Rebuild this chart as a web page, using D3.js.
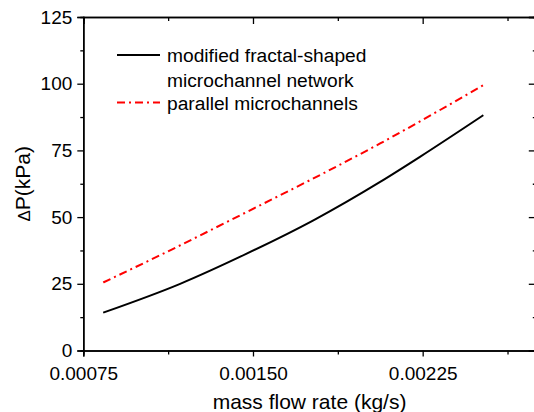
<!DOCTYPE html>
<html>
<head>
<meta charset="utf-8">
<script src="https://cdn.jsdelivr.net/npm/d3@7"></script>
<style>
  html, body { margin: 0; padding: 0; background: #fff; }
  svg { display: block; }
  text { font-family: "Liberation Sans", Arial, Helvetica, sans-serif; fill: #000; }
</style>
</head>
<body>
<svg id="chart" width="534" height="412"></svg>
<script>
// ---- data ----
const fractalMass = [0.000838, 0.001178, 0.001472, 0.001767, 0.002062, 0.002238, 0.002518];
const fractalDP   = [14.2, 25.0, 36.3, 48.8, 63.2, 72.6, 88.2];
const parallelMass = [0.000838, 0.001089, 0.001472, 0.001767, 0.002062, 0.002518];
const parallelDP   = [25.5, 35.7, 51.9, 64.5, 77.6, 99.5];
const xTicks = [0.00075, 0.0015, 0.00225];
const xMinorTicks = [0.001125, 0.001875, 0.002625];
const yTicks = [0, 25, 50, 75, 100, 125];
const yMinorTicks = [12.5, 37.5, 62.5, 87.5, 112.5];
const legendLabels = [["modified fractal-shaped", "microchannel network"], ["parallel microchannels"]];
const xTitle = "mass flow rate (kg/s)";

const svg = d3.select("#chart");
const L = 83.3, R = 535.8, T = 17, B = 350.5;
const x = d3.scaleLinear().domain([0.00075, 0.00275]).range([L, R]);
const y = d3.scaleLinear().domain([0, 125]).range([B, T]);
const fmt = d3.format(".5f");

// axes
const gBottom = svg.append("g").attr("transform", `translate(0,${B})`);
gBottom.call(d3.axisBottom(x).tickValues(xTicks).tickSize(6).tickPadding(10).tickFormat(fmt));
gBottom.append("g").call(d3.axisBottom(x).tickValues(xMinorTicks).tickSize(4).tickFormat(""));
const gTop = svg.append("g").attr("transform", `translate(0,${T})`);
gTop.call(d3.axisBottom(x).tickValues(xTicks).tickSize(7).tickFormat(""));
gTop.append("g").call(d3.axisBottom(x).tickValues(xMinorTicks).tickSize(4).tickFormat(""));
const gLeft = svg.append("g").attr("transform", `translate(${L},0)`);
gLeft.call(d3.axisLeft(y).tickValues(yTicks).tickSize(6).tickPadding(5).tickFormat(d3.format("d")));
gLeft.append("g").call(d3.axisLeft(y).tickValues(yMinorTicks).tickSize(3).tickFormat(""));
const gRight = svg.append("g").attr("transform", `translate(${R},0)`);
gRight.call(d3.axisLeft(y).tickValues(yTicks).tickSize(7).tickFormat(""));
gRight.append("g").call(d3.axisLeft(y).tickValues(yMinorTicks).tickSize(3).tickFormat(""));

svg.selectAll(".domain").attr("stroke", "#000").attr("stroke-width", 1.5);
svg.selectAll(".tick line").attr("stroke", "#000").attr("stroke-width", 1.3);
svg.selectAll(".tick text").attr("font-size", 19).attr("font-family", "Liberation Sans, Arial, sans-serif").attr("fill", "#000");

// lines
const line = d3.line().x(d => x(d[0])).y(d => y(d[1])).curve(d3.curveMonotoneX);
svg.append("path")
  .datum(fractalMass.map((m, i) => [m, fractalDP[i]]))
  .attr("d", line).attr("fill", "none").attr("stroke", "#000").attr("stroke-width", 2);
svg.append("path")
  .datum(parallelMass.map((m, i) => [m, parallelDP[i]]))
  .attr("d", line).attr("fill", "none").attr("stroke", "#ff0000").attr("stroke-width", 2)
  .attr("stroke-dasharray", "8,4,2,4");

// legend
const lg = svg.append("g");
lg.append("line").attr("x1", 117).attr("x2", 160).attr("y1", 55).attr("y2", 55)
  .attr("stroke", "#000").attr("stroke-width", 2);
lg.append("line").attr("x1", 117).attr("x2", 160).attr("y1", 102.5).attr("y2", 102.5)
  .attr("stroke", "#ff0000").attr("stroke-width", 2).attr("stroke-dasharray", "8,4,2,4");
lg.append("text").attr("x", 167).attr("y", 62).attr("font-size", 19.2).text(legendLabels[0][0]);
lg.append("text").attr("x", 167).attr("y", 86.5).attr("font-size", 19.2).text(legendLabels[0][1]);
lg.append("text").attr("x", 167).attr("y", 110).attr("font-size", 19.2).text(legendLabels[1][0]);

// axis titles
svg.append("text").attr("x", (L + R) / 2).attr("y", 409).attr("text-anchor", "middle")
  .attr("font-size", 21).text(xTitle);
const yt = svg.append("text").attr("transform", `translate(30,${(T + B) / 2}) rotate(-90)`)
  .attr("text-anchor", "middle").attr("font-size", 21);
yt.append("tspan").attr("font-size", 17).text("Δ");
yt.append("tspan").text("P(kPa)");
</script>
</body>
</html>
